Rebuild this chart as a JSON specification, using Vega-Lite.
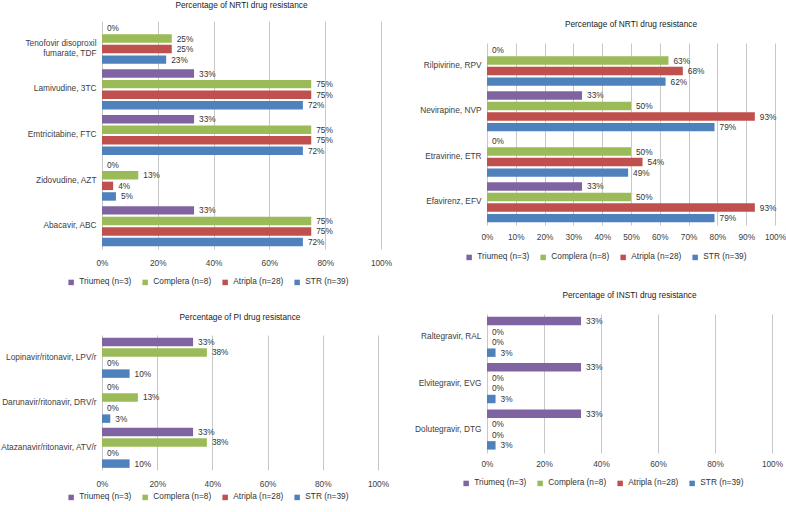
{
  "$schema": "https://vega.github.io/schema/vega-lite/v6.json",
  "padding": {"left": 0, "top": 0, "right": 2, "bottom": 2},
  "background": "white",
  "datasets": {
    "rows": [
      {"panel": "A", "drug": "Tenofovir disoproxil|fumarate, TDF", "regimen": "Triumeq (n=3)", "value": 0},
      {"panel": "A", "drug": "Tenofovir disoproxil|fumarate, TDF", "regimen": "Complera (n=8)", "value": 0.25},
      {"panel": "A", "drug": "Tenofovir disoproxil|fumarate, TDF", "regimen": "Atripla (n=28)", "value": 0.25},
      {"panel": "A", "drug": "Tenofovir disoproxil|fumarate, TDF", "regimen": "STR (n=39)", "value": 0.23},
      {"panel": "A", "drug": "Lamivudine, 3TC", "regimen": "Triumeq (n=3)", "value": 0.33},
      {"panel": "A", "drug": "Lamivudine, 3TC", "regimen": "Complera (n=8)", "value": 0.75},
      {"panel": "A", "drug": "Lamivudine, 3TC", "regimen": "Atripla (n=28)", "value": 0.75},
      {"panel": "A", "drug": "Lamivudine, 3TC", "regimen": "STR (n=39)", "value": 0.72},
      {"panel": "A", "drug": "Emtricitabine, FTC", "regimen": "Triumeq (n=3)", "value": 0.33},
      {"panel": "A", "drug": "Emtricitabine, FTC", "regimen": "Complera (n=8)", "value": 0.75},
      {"panel": "A", "drug": "Emtricitabine, FTC", "regimen": "Atripla (n=28)", "value": 0.75},
      {"panel": "A", "drug": "Emtricitabine, FTC", "regimen": "STR (n=39)", "value": 0.72},
      {"panel": "A", "drug": "Zidovudine, AZT", "regimen": "Triumeq (n=3)", "value": 0},
      {"panel": "A", "drug": "Zidovudine, AZT", "regimen": "Complera (n=8)", "value": 0.13},
      {"panel": "A", "drug": "Zidovudine, AZT", "regimen": "Atripla (n=28)", "value": 0.04},
      {"panel": "A", "drug": "Zidovudine, AZT", "regimen": "STR (n=39)", "value": 0.05},
      {"panel": "A", "drug": "Abacavir, ABC", "regimen": "Triumeq (n=3)", "value": 0.33},
      {"panel": "A", "drug": "Abacavir, ABC", "regimen": "Complera (n=8)", "value": 0.75},
      {"panel": "A", "drug": "Abacavir, ABC", "regimen": "Atripla (n=28)", "value": 0.75},
      {"panel": "A", "drug": "Abacavir, ABC", "regimen": "STR (n=39)", "value": 0.72},

      {"panel": "B", "drug": "Rilpivirine, RPV", "regimen": "Triumeq (n=3)", "value": 0},
      {"panel": "B", "drug": "Rilpivirine, RPV", "regimen": "Complera (n=8)", "value": 0.63},
      {"panel": "B", "drug": "Rilpivirine, RPV", "regimen": "Atripla (n=28)", "value": 0.68},
      {"panel": "B", "drug": "Rilpivirine, RPV", "regimen": "STR (n=39)", "value": 0.62},
      {"panel": "B", "drug": "Nevirapine, NVP", "regimen": "Triumeq (n=3)", "value": 0.33},
      {"panel": "B", "drug": "Nevirapine, NVP", "regimen": "Complera (n=8)", "value": 0.50},
      {"panel": "B", "drug": "Nevirapine, NVP", "regimen": "Atripla (n=28)", "value": 0.93},
      {"panel": "B", "drug": "Nevirapine, NVP", "regimen": "STR (n=39)", "value": 0.79},
      {"panel": "B", "drug": "Etravirine, ETR", "regimen": "Triumeq (n=3)", "value": 0},
      {"panel": "B", "drug": "Etravirine, ETR", "regimen": "Complera (n=8)", "value": 0.50},
      {"panel": "B", "drug": "Etravirine, ETR", "regimen": "Atripla (n=28)", "value": 0.54},
      {"panel": "B", "drug": "Etravirine, ETR", "regimen": "STR (n=39)", "value": 0.49},
      {"panel": "B", "drug": "Efavirenz, EFV", "regimen": "Triumeq (n=3)", "value": 0.33},
      {"panel": "B", "drug": "Efavirenz, EFV", "regimen": "Complera (n=8)", "value": 0.50},
      {"panel": "B", "drug": "Efavirenz, EFV", "regimen": "Atripla (n=28)", "value": 0.93},
      {"panel": "B", "drug": "Efavirenz, EFV", "regimen": "STR (n=39)", "value": 0.79},

      {"panel": "C", "drug": "Lopinavir/ritonavir, LPV/r", "regimen": "Triumeq (n=3)", "value": 0.33},
      {"panel": "C", "drug": "Lopinavir/ritonavir, LPV/r", "regimen": "Complera (n=8)", "value": 0.38},
      {"panel": "C", "drug": "Lopinavir/ritonavir, LPV/r", "regimen": "Atripla (n=28)", "value": 0},
      {"panel": "C", "drug": "Lopinavir/ritonavir, LPV/r", "regimen": "STR (n=39)", "value": 0.10},
      {"panel": "C", "drug": "Darunavir/ritonavir, DRV/r", "regimen": "Triumeq (n=3)", "value": 0},
      {"panel": "C", "drug": "Darunavir/ritonavir, DRV/r", "regimen": "Complera (n=8)", "value": 0.13},
      {"panel": "C", "drug": "Darunavir/ritonavir, DRV/r", "regimen": "Atripla (n=28)", "value": 0},
      {"panel": "C", "drug": "Darunavir/ritonavir, DRV/r", "regimen": "STR (n=39)", "value": 0.03},
      {"panel": "C", "drug": "Atazanavir/ritonavir, ATV/r", "regimen": "Triumeq (n=3)", "value": 0.33},
      {"panel": "C", "drug": "Atazanavir/ritonavir, ATV/r", "regimen": "Complera (n=8)", "value": 0.38},
      {"panel": "C", "drug": "Atazanavir/ritonavir, ATV/r", "regimen": "Atripla (n=28)", "value": 0},
      {"panel": "C", "drug": "Atazanavir/ritonavir, ATV/r", "regimen": "STR (n=39)", "value": 0.10},

      {"panel": "D", "drug": "Raltegravir, RAL", "regimen": "Triumeq (n=3)", "value": 0.33},
      {"panel": "D", "drug": "Raltegravir, RAL", "regimen": "Complera (n=8)", "value": 0},
      {"panel": "D", "drug": "Raltegravir, RAL", "regimen": "Atripla (n=28)", "value": 0},
      {"panel": "D", "drug": "Raltegravir, RAL", "regimen": "STR (n=39)", "value": 0.03},
      {"panel": "D", "drug": "Elvitegravir, EVG", "regimen": "Triumeq (n=3)", "value": 0.33},
      {"panel": "D", "drug": "Elvitegravir, EVG", "regimen": "Complera (n=8)", "value": 0},
      {"panel": "D", "drug": "Elvitegravir, EVG", "regimen": "Atripla (n=28)", "value": 0},
      {"panel": "D", "drug": "Elvitegravir, EVG", "regimen": "STR (n=39)", "value": 0.03},
      {"panel": "D", "drug": "Dolutegravir, DTG", "regimen": "Triumeq (n=3)", "value": 0.33},
      {"panel": "D", "drug": "Dolutegravir, DTG", "regimen": "Complera (n=8)", "value": 0},
      {"panel": "D", "drug": "Dolutegravir, DTG", "regimen": "Atripla (n=28)", "value": 0},
      {"panel": "D", "drug": "Dolutegravir, DTG", "regimen": "STR (n=39)", "value": 0.03}
    ]
  },
  "data": {"name": "rows"},
  "spacing": 22,
  "center": true,
  "resolve": {"scale": {"color": "independent", "x": "independent", "y": "independent"}, "legend": {"color": "independent"}},
  "hconcat": [
    {
      "spacing": 26,
      "resolve": {"scale": {"color": "independent", "x": "independent", "y": "independent"}, "legend": {"color": "independent"}},
      "vconcat": [
        {
          "title": {"text": "Percentage of NRTI drug resistance", "offset": 12},
          "width": 279, "height": 228,
          "transform": [{"filter": "datum.panel == 'A'"}],
          "encoding": {
            "y": {"field": "drug", "type": "nominal", "sort": ["Tenofovir disoproxil|fumarate, TDF", "Lamivudine, 3TC", "Emtricitabine, FTC", "Zidovudine, AZT", "Abacavir, ABC"], "scale": {"paddingInner": 0.12, "paddingOuter": 0.06}, "axis": {"title": null, "labelExpr": "split(datum.label, '|')"}},
            "yOffset": {"field": "regimen", "type": "nominal", "sort": ["Triumeq (n=3)", "Complera (n=8)", "Atripla (n=28)", "STR (n=39)"], "scale": {"paddingInner": 0.2}},
            "x": {"field": "value", "type": "quantitative", "scale": {"domain": [0, 1]}, "axis": {"title": null, "format": ".0%", "values": [0, 0.2, 0.4, 0.6, 0.8, 1]}}
          },
          "layer": [
            {"mark": {"type": "bar"}, "encoding": {"color": {"field": "regimen", "type": "nominal", "scale": {"domain": ["Triumeq (n=3)", "Complera (n=8)", "Atripla (n=28)", "STR (n=39)"], "range": ["#8064A2", "#9BBB59", "#C0504D", "#4F81BD"]}, "legend": {"title": null, "orient": "none", "direction": "horizontal", "legendX": -35, "legendY": 257}}}},
            {"mark": {"type": "text", "align": "left", "dx": 5, "dy": 1, "fontSize": 8.3, "color": "#333333"}, "encoding": {"text": {"field": "value", "type": "quantitative", "format": ".0%"}}}
          ]
        },
        {
          "title": {"text": "Percentage of PI drug resistance", "offset": 14},
          "width": 276, "height": 135,
          "transform": [{"filter": "datum.panel == 'C'"}],
          "encoding": {
            "y": {"field": "drug", "type": "nominal", "sort": ["Lopinavir/ritonavir, LPV/r", "Darunavir/ritonavir, DRV/r", "Atazanavir/ritonavir, ATV/r"], "scale": {"paddingInner": 0.12, "paddingOuter": 0.06}, "axis": {"title": null}},
            "yOffset": {"field": "regimen", "type": "nominal", "sort": ["Triumeq (n=3)", "Complera (n=8)", "Atripla (n=28)", "STR (n=39)"], "scale": {"paddingInner": 0.2}},
            "x": {"field": "value", "type": "quantitative", "scale": {"domain": [0, 1]}, "axis": {"title": null, "format": ".0%", "values": [0, 0.2, 0.4, 0.6, 0.8, 1]}}
          },
          "layer": [
            {"mark": {"type": "bar"}, "encoding": {"color": {"field": "regimen", "type": "nominal", "scale": {"domain": ["Triumeq (n=3)", "Complera (n=8)", "Atripla (n=28)", "STR (n=39)"], "range": ["#8064A2", "#9BBB59", "#C0504D", "#4F81BD"]}, "legend": {"title": null, "orient": "none", "direction": "horizontal", "padding": 8, "legendX": -43, "legendY": 150}}}},
            {"mark": {"type": "text", "align": "left", "dx": 5, "dy": 1, "fontSize": 8.3, "color": "#333333"}, "encoding": {"text": {"field": "value", "type": "quantitative", "format": ".0%"}}}
          ]
        }
      ]
    },
    {
      "spacing": 29,
      "resolve": {"scale": {"color": "independent", "x": "independent", "y": "independent"}, "legend": {"color": "independent"}},
      "vconcat": [
        {
          "title": {"text": "Percentage of NRTI drug resistance", "offset": 15},
          "width": 288, "height": 182,
          "transform": [{"filter": "datum.panel == 'B'"}],
          "encoding": {
            "y": {"field": "drug", "type": "nominal", "sort": ["Rilpivirine, RPV", "Nevirapine, NVP", "Etravirine, ETR", "Efavirenz, EFV"], "scale": {"paddingInner": 0.12, "paddingOuter": 0.06}, "axis": {"title": null}},
            "yOffset": {"field": "regimen", "type": "nominal", "sort": ["Triumeq (n=3)", "Complera (n=8)", "Atripla (n=28)", "STR (n=39)"], "scale": {"paddingInner": 0.2}},
            "x": {"field": "value", "type": "quantitative", "scale": {"domain": [0, 1]}, "axis": {"title": null, "format": ".0%", "labelPadding": 7, "values": [0, 0.1, 0.2, 0.3, 0.4, 0.5, 0.6, 0.7, 0.8, 0.9, 1]}}
          },
          "layer": [
            {"mark": {"type": "bar"}, "encoding": {"color": {"field": "regimen", "type": "nominal", "scale": {"domain": ["Triumeq (n=3)", "Complera (n=8)", "Atripla (n=28)", "STR (n=39)"], "range": ["#8064A2", "#9BBB59", "#C0504D", "#4F81BD"]}, "legend": {"title": null, "orient": "none", "direction": "horizontal", "legendX": -22, "legendY": 210}}}},
            {"mark": {"type": "text", "align": "left", "dx": 5, "dy": 1, "fontSize": 8.3, "color": "#333333"}, "encoding": {"text": {"field": "value", "type": "quantitative", "format": ".0%"}}}
          ]
        },
        {
          "title": {"text": "Percentage of INSTI drug resistance", "offset": 15},
          "width": 285, "height": 139,
          "transform": [{"filter": "datum.panel == 'D'"}],
          "encoding": {
            "y": {"field": "drug", "type": "nominal", "sort": ["Raltegravir, RAL", "Elvitegravir, EVG", "Dolutegravir, DTG"], "scale": {"paddingInner": 0.12, "paddingOuter": 0.06}, "axis": {"title": null}},
            "yOffset": {"field": "regimen", "type": "nominal", "sort": ["Triumeq (n=3)", "Complera (n=8)", "Atripla (n=28)", "STR (n=39)"], "scale": {"paddingInner": 0.2}},
            "x": {"field": "value", "type": "quantitative", "scale": {"domain": [0, 1]}, "axis": {"title": null, "format": ".0%", "labelPadding": 6, "values": [0, 0.2, 0.4, 0.6, 0.8, 1]}}
          },
          "layer": [
            {"mark": {"type": "bar"}, "encoding": {"color": {"field": "regimen", "type": "nominal", "scale": {"domain": ["Triumeq (n=3)", "Complera (n=8)", "Atripla (n=28)", "STR (n=39)"], "range": ["#8064A2", "#9BBB59", "#C0504D", "#4F81BD"]}, "legend": {"title": null, "orient": "none", "direction": "horizontal", "legendX": -25, "legendY": 165}}}},
            {"mark": {"type": "text", "align": "left", "dx": 5, "dy": 1, "fontSize": 8.3, "color": "#333333"}, "encoding": {"text": {"field": "value", "type": "quantitative", "format": ".0%"}}}
          ]
        }
      ]
    }
  ],
  "config": {
    "font": "Liberation Sans",
    "view": {"stroke": null},
    "axis": {"labelFontSize": 8.3, "labelColor": "#404040", "ticks": false, "domain": false, "gridColor": "#c8c8c8", "gridWidth": 1, "labelFont": "Liberation Sans"},
    "axisY": {"grid": false, "labelPadding": 6, "labelLineHeight": 10},
    "axisX": {"labelPadding": 9, "labelFlush": false},
    "title": {"fontSize": 8.3, "fontWeight": "normal", "color": "#222222", "font": "Liberation Sans"},
    "legend": {"symbolType": "square", "symbolSize": 30, "symbolStrokeWidth": 0, "labelFontSize": 8.3, "labelColor": "#333333", "labelFont": "Liberation Sans", "columnPadding": 9, "labelOffset": 4}
  }
}
